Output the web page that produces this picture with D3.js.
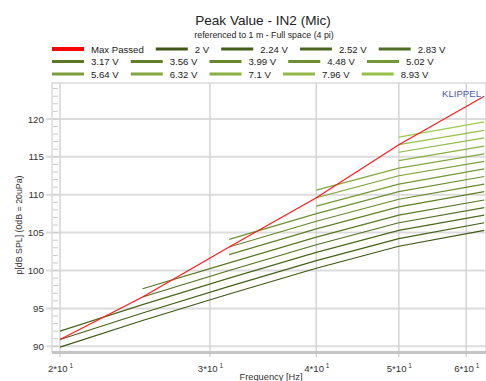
<!DOCTYPE html>
<html>
<head>
<meta charset="utf-8">
<script src="https://cdn.jsdelivr.net/npm/d3@7"></script>
<style>
  html, body { margin: 0; padding: 0; background: #fff; }
  svg { display: block; font-family: "Liberation Sans", Arial, sans-serif; }
</style>
</head>
<body>
<svg id="chart" width="486" height="381"></svg>
<script>
// Measurement frequencies (Hz) at which each level was recorded
const frequencies = [20, 25, 31.6, 40, 50, 63.0];

// Drive voltages, lowest first (the last one has no legend slot)
const voltageLabels = ["2 V", "2.24 V", "2.52 V", "2.83 V", "3.17 V", "3.56 V", "3.99 V",
  "4.48 V", "5.02 V", "5.64 V", "6.32 V", "7.1 V", "7.96 V", "8.93 V", "10 V"];

// Peak SPL (dB) per voltage at each frequency; null = not measured
const levels = [
  [89.9, 93.4, 96.9, 100.3, 103.2, 105.3],
  [90.9, 94.4, 97.9, 101.3, 104.2, 106.3],
  [92.0, 95.5, 99.0, 102.4, 105.3, 107.3],
  [null, 96.5, 100.0, 103.4, 106.3, 108.3],
  [null, 97.6, 101.0, 104.4, 107.3, 109.3],
  [null, null, 102.1, 105.5, 108.4, 110.4],
  [null, null, 103.1, 106.5, 109.4, 111.4],
  [null, null, 104.1, 107.5, 110.4, 112.4],
  [null, null, null, 108.5, 111.4, 113.4],
  [null, null, null, 109.6, 112.5, 114.4],
  [null, null, null, 110.6, 113.5, 115.4],
  [null, null, null, null, 114.5, 116.4],
  [null, null, null, null, 115.6, 117.5],
  [null, null, null, null, 116.6, 118.5],
  [null, null, null, null, 117.6, 119.6]
];

// Highest level that passed at each frequency
const maxPassed = [90.9, 96.5, 103.1, 109.6, 116.6, 123.0];

// Axis ticks
const xTicks = [20, 30, 40, 50, 60];
const yTicks = [90, 95, 100, 105, 110, 115, 120];

const svg = d3.select("#chart");
const plot = { left: 52, right: 486, top: 83, bottom: 352 };

const x = d3.scaleLog().domain([19.57, 63.3]).range([plot.left, plot.right]);
const y = d3.scaleLinear().domain([89.25, 124.74]).range([plot.bottom, plot.top]);

const green = d3.interpolateRgb("#3e5616", "#9cc84e");
const colorOf = i => green(i / (voltageLabels.length - 1));

// Titles
svg.append("text").attr("x", 263).attr("y", 25).attr("text-anchor", "middle")
  .attr("font-size", 13.6).attr("fill", "#222").text("Peak Value - IN2 (Mic)");
svg.append("text").attr("x", 264).attr("y", 37.5).attr("text-anchor", "middle")
  .attr("font-size", 8.8).attr("fill", "#222").text("referenced to 1 m - Full space (4 pi)");

// Legend, five entries per row, laid out left to right
const legendItems = [{ label: "Max Passed", color: "#ff0000", w: 4 }]
  .concat(voltageLabels.slice(0, 14).map((l, i) => ({ label: l, color: colorOf(i), w: 3 })));
const legend = svg.append("g");
let cursor = 52;
legendItems.forEach((d, k) => {
  const row = Math.floor(k / 5);
  if (k % 5 === 0) cursor = 52;
  const cy = 49 + row * 12.5;
  legend.append("line").attr("x1", cursor).attr("x2", cursor + 32).attr("y1", cy).attr("y2", cy)
    .attr("stroke", d.color).attr("stroke-width", d.w);
  const t = legend.append("text").attr("x", cursor + 39).attr("y", cy + 3.5)
    .attr("font-size", 9.6).attr("fill", "#222").text(d.label);
  cursor = cursor + 39 + t.node().getComputedTextLength() + 12;
});

// Plot frame and grid
const g = svg.append("g");
g.append("rect").attr("x", plot.left).attr("y", plot.top)
  .attr("width", plot.right - plot.left).attr("height", plot.bottom - plot.top)
  .attr("fill", "#fff").attr("stroke", "#c8c8c8").attr("stroke-width", 1);

g.selectAll(".hgrid").data(yTicks).join("line")
  .attr("x1", plot.left - 6).attr("x2", plot.right)
  .attr("y1", d => y(d)).attr("y2", d => y(d))
  .attr("stroke", "#dcdcdc").attr("stroke-width", 2);
g.selectAll(".vgrid").data(xTicks).join("line")
  .attr("x1", d => x(d)).attr("x2", d => x(d))
  .attr("y1", plot.top).attr("y2", plot.bottom + 5)
  .attr("stroke", "#d4d4d4").attr("stroke-width", 1.5);

// Minor y ticks every 1 dB
g.selectAll(".ymin").data(d3.range(90, 125)).join("line")
  .attr("x1", plot.left + 1).attr("x2", plot.left + 6)
  .attr("y1", d => y(d)).attr("y2", d => y(d))
  .attr("stroke", "#c8c8c8").attr("stroke-width", 1);

// Bottom border bar
g.append("line").attr("x1", plot.left).attr("x2", plot.right)
  .attr("y1", plot.bottom + 0.5).attr("y2", plot.bottom + 0.5)
  .attr("stroke", "#c4c4c4").attr("stroke-width", 3);

// Y axis labels
const yAxis = svg.append("g").attr("transform", `translate(${plot.left - 7},0)`)
  .call(d3.axisLeft(y).tickValues(yTicks).tickSize(0).tickPadding(1).tickFormat(d3.format("d")));
yAxis.select(".domain").remove();
yAxis.selectAll("text").attr("font-size", 9.8).attr("fill", "#333")
  .attr("font-family", "Liberation Sans, Arial, sans-serif");

// X axis labels as mantissa*10 with superscript exponent
const xAxis = svg.append("g").attr("transform", `translate(0,${plot.bottom + 2})`)
  .call(d3.axisBottom(x).tickValues(xTicks).tickSize(0).tickPadding(11).tickFormat(() => ""));
xAxis.select(".domain").remove();
xAxis.selectAll("text").each(function (d) {
  const t = d3.select(this).attr("font-size", 9.6).attr("fill", "#333")
    .attr("font-family", "Liberation Sans, Arial, sans-serif");
  t.append("tspan").text(`${d / 10}*10`);
  t.append("tspan").attr("font-size", 6.5).attr("dy", -4).text(" 1");
});

svg.append("text").attr("x", 271).attr("y", 380).attr("text-anchor", "middle")
  .attr("font-size", 9.3).attr("fill", "#333").text("Frequency [Hz]");
svg.append("text").attr("transform", "translate(22,225) rotate(-90)")
  .attr("text-anchor", "middle").attr("font-size", 8.8).attr("fill", "#333")
  .text("p[dB SPL] (0dB = 20uPa)");

// Curves
const line = d3.line().defined(d => d[1] !== null).x(d => x(d[0])).y(d => y(d[1]));
const curves = svg.append("g");
levels.forEach((row, i) => {
  curves.append("path").datum(frequencies.map((f, k) => [f, row[k]]))
    .attr("d", line).attr("fill", "none").attr("stroke", colorOf(i)).attr("stroke-width", 1.2);
});
curves.append("path").datum(frequencies.map((f, k) => [f, maxPassed[k]]))
  .attr("d", line).attr("fill", "none").attr("stroke", "#ff1a1a").attr("stroke-width", 1.2);

svg.append("text").attr("x", 481).attr("y", 97).attr("text-anchor", "end")
  .attr("font-size", 9.6).attr("fill", "#4c5ca6").text("KLIPPEL");
</script>
</body>
</html>
